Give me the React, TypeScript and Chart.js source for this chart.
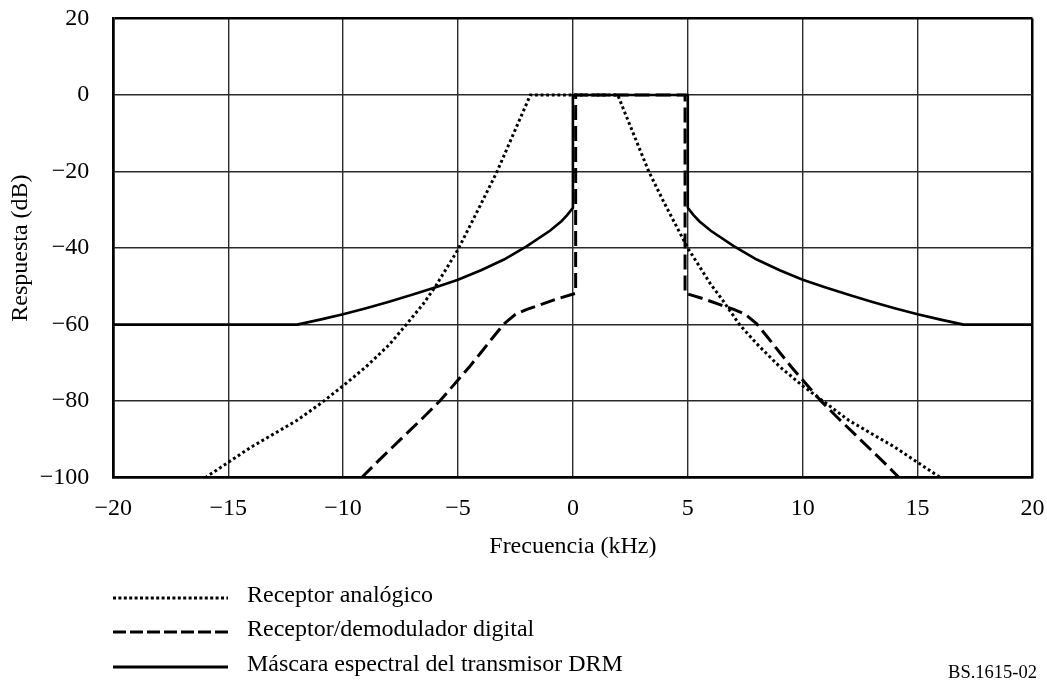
import React, { useEffect, useRef } from "react";
import { Chart, registerables } from "chart.js";

Chart.register(...registerables);

// ---- Data (kHz, dB) ----
const analogFreq = [-16, -15, -14, -13, -12, -11, -10, -9, -8, -7.25, -6.5, -6, -5, -4, -3.3, -1.85, 1.95, 3.3, 4, 5, 6, 6.5, 7.25, 8, 9, 10, 11, 12, 13, 14, 15, 16];
const analogResp = [-100, -96, -92, -88.5, -85, -80.7, -76, -71, -65.3, -60, -54.5, -50.2, -40.4, -28.5, -20, 0, 0, -20, -28.5, -40, -49.5, -53.5, -60, -65, -71, -76, -80.5, -85, -88.5, -92, -96, -100];

const digitalFreq = [-9.2, -8.5, -7.5, -6.5, -5.8, -5, -4.5, -4, -3.5, -3, -2.5, -2, -1.4, -0.7, 0.12, 0.12, 4.88, 4.88, 5.7, 6.4, 7, 7.5, 8, 8.5, 9, 9.5, 10, 10.8, 11.5, 12.5, 13.5, 14.2];
const digitalResp = [-100, -95.8, -90, -84.2, -80, -74.5, -71, -67.3, -63.5, -59.8, -57.3, -56, -54.8, -53.3, -51.8, 0, 0, -51.8, -53.3, -54.8, -56, -57.3, -59.8, -63.5, -67.3, -71, -74.5, -80, -84.2, -90, -95.8, -100];

const maskFreq = [-20, -12, -11, -10, -9, -8, -7, -6, -5, -4, -3, -2, -1, -0.5, -0.25, 0, 0, 5, 5, 5.25, 5.5, 6, 7, 8, 9, 10, 11, 12, 13, 14, 15, 16, 17, 20];
const maskResp = [-60, -60, -58.7, -57.3, -55.7, -54, -52.2, -50.3, -48.3, -45.8, -43, -39.5, -35.5, -33, -31.4, -29.5, 0, 0, -29.5, -31.4, -33, -35.5, -39.5, -43, -45.8, -48.3, -50.3, -52.2, -54, -55.7, -57.3, -58.7, -60, -60];

const seriesLabels = [
  "Receptor analógico",
  "Receptor/demodulador digital",
  "Máscara espectral del transmisor DRM",
];

const xTicks = [-20, -15, -10, -5, 0, 5, 10, 15, 20];
const yTicks = [-100, -80, -60, -40, -20, 0, 20];

const xTitle = "Frecuencia (kHz)";
const yTitle = "Respuesta (dB)";
const figureId = "BS.1615-02";

const FONT = "'Liberation Serif', 'Times New Roman', serif";

const fmt = (v: number) => (v < 0 ? "\u2212" + Math.abs(v) : String(v));

const pairs = (xs: number[], ys: number[]) => xs.map((x, i) => ({ x, y: ys[i] }));

export default function App() {
  const ref = useRef<HTMLCanvasElement | null>(null);

  useEffect(() => {
    const canvas = ref.current;
    if (!canvas) return;

    const legendPlugin = {
      id: "customLegend",
      afterDraw(chart: any) {
        const ctx = chart.ctx as CanvasRenderingContext2D;
        const rows = [598, 632, 667];
        const dashes = [[3, 2.4], [13, 4], []];
        ctx.save();
        rows.forEach((y, i) => {
          ctx.beginPath();
          ctx.setLineDash(dashes[i]);
          ctx.lineWidth = 3;
          ctx.strokeStyle = "#000";
          ctx.lineCap = "butt";
          ctx.moveTo(113, y);
          ctx.lineTo(228, y);
          ctx.stroke();
          ctx.setLineDash([]);
          ctx.fillStyle = "#000";
          ctx.font = `24px ${FONT}`;
          ctx.textAlign = "left";
          ctx.textBaseline = "middle";
          ctx.fillText(seriesLabels[i], 247, y - 2);
        });
        ctx.font = `18.5px ${FONT}`;
        ctx.textAlign = "right";
        ctx.textBaseline = "alphabetic";
        ctx.fillText(figureId, 1037, 678);
        ctx.restore();
      },
    };

    const gridWidth = (c: any) => {
      const n = c.scale.ticks.length;
      return c.index === 0 || c.index === n - 1 ? 2.5 : 1.4;
    };
    const gridColor = (c: any) => {
      const n = c.scale.ticks.length;
      return c.index === 0 || c.index === n - 1 ? "#000" : "#2a2a2a";
    };

    const chart = new Chart(canvas, {
      type: "line",
      data: {
        datasets: [
          {
            label: seriesLabels[2],
            data: pairs(maskFreq, maskResp),
            borderColor: "#000",
            borderWidth: 2.6,
            pointRadius: 0,
            tension: 0,
            fill: false,
          },
          {
            label: seriesLabels[1],
            data: pairs(digitalFreq, digitalResp),
            borderColor: "#000",
            borderWidth: 3,
            borderDash: [15, 6],
            pointRadius: 0,
            tension: 0,
            fill: false,
          },
          {
            label: seriesLabels[0],
            data: pairs(analogFreq, analogResp),
            borderColor: "#000",
            borderWidth: 3,
            borderDash: [2.8, 2.8],
            pointRadius: 0,
            tension: 0,
            fill: false,
          },
        ],
      },
      options: {
        responsive: false,
        animation: false,
        devicePixelRatio: 1,
        layout: { padding: { left: 0, top: 18.4, right: 14.5, bottom: 122.7 } },
        plugins: { legend: { display: false }, tooltip: { enabled: false } },
        scales: {
          x: {
            type: "linear",
            min: -20,
            max: 20,
            afterBuildTicks: (s: any) => {
              s.ticks = xTicks.map((v) => ({ value: v }));
            },
            afterFit: (s: any) => {
              s.height = 83.6;
              s.paddingLeft = 0;
              s.paddingRight = 0;
              s.paddingTop = 0;
              s.paddingBottom = 0;
            },
            ticks: {
              padding: 16.6,
              color: "#000",
              font: { family: FONT, size: 24 },
              maxRotation: 0,
              callback: (v: any) => fmt(Number(v)),
            },
            grid: { drawTicks: false, color: gridColor, lineWidth: gridWidth },
            border: { display: true, color: "#000", width: 2.5 },
            title: {
              display: true,
              text: xTitle,
              color: "#000",
              font: { family: FONT, size: 24 },
              padding: { top: 0, bottom: 0 },
            },
          },
          y: {
            type: "linear",
            min: -100,
            max: 20,
            afterBuildTicks: (s: any) => {
              s.ticks = yTicks.map((v) => ({ value: v }));
            },
            afterFit: (s: any) => {
              s.width = 113.3;
              s.paddingLeft = 0;
              s.paddingRight = 0;
              s.paddingTop = 0;
              s.paddingBottom = 0;
            },
            ticks: {
              padding: 24,
              color: "#000",
              font: { family: FONT, size: 24 },
              callback: (v: any) => fmt(Number(v)),
            },
            grid: { drawTicks: false, color: gridColor, lineWidth: gridWidth },
            border: { display: true, color: "#000", width: 2.5 },
            title: {
              display: true,
              text: yTitle,
              color: "#000",
              font: { family: FONT, size: 24 },
              padding: { top: 6.1, bottom: 0 },
            },
          },
        },
      },
      plugins: [legendPlugin],
    });

    return () => chart.destroy();
  }, []);

  return (
    <div style={{ position: "absolute", left: 0, top: 0, width: 1047, height: 684, background: "#fff" }}>
      <canvas ref={ref} width={1047} height={684} style={{ display: "block", width: 1047, height: 684 }} />
    </div>
  );
}
